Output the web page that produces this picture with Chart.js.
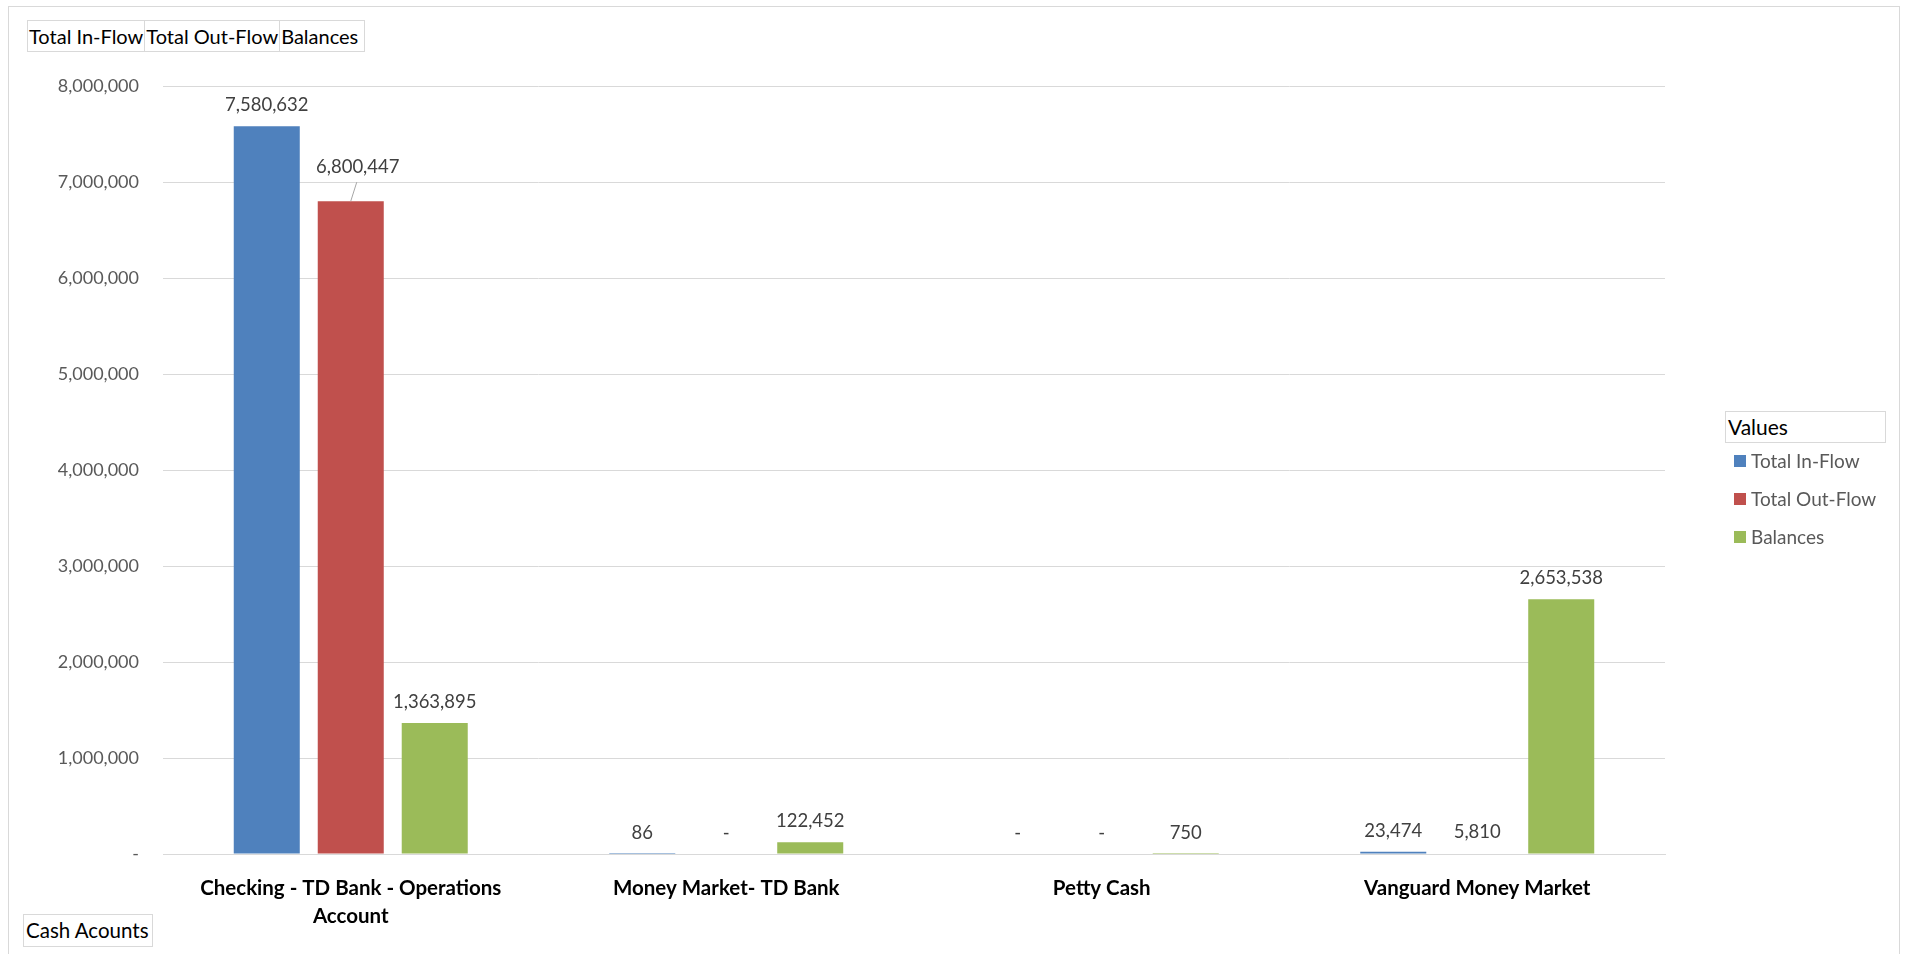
<!DOCTYPE html>
<html>
<head>
<meta charset="utf-8">
<script src="https://cdn.jsdelivr.net/npm/chart.js@4.4.1/dist/chart.umd.min.js"></script>
<style>
  html, body { margin: 0; padding: 0; background: #fff; }
  body { width: 1908px; height: 954px; position: relative; overflow: hidden; font-family: Lato, "Open Sans", sans-serif; }
  #frame { position: absolute; left: 8px; top: 6px; width: 1892px; height: 1000px; border: 1px solid #d9d9d9; box-sizing: border-box; }
  #wrap { position: absolute; left: 0; top: 0; width: 1908px; height: 954px; }
  .fieldbox { position: absolute; border: 1px solid #d9d9d9; box-sizing: border-box; color: #000; font-size: 20px; line-height: 30px; white-space: nowrap; background: #fff; }
  .fields { left: 27px; top: 20px; height: 32px; display: flex; }
  .fields span { border-right: 1px solid #d9d9d9; padding: 0 1px; }
  .fields span:last-child { border-right: none; padding-right: 6px; }
  .cash { left: 23px; top: 914px; width: 130px; height: 33px; padding-left: 2px; font-size: 20.5px; }
  .valuesHdr { left: 1725px; top: 411px; width: 161px; height: 32px; padding-left: 2px; font-size: 21px; }
  #legend { position: absolute; left: 1734px; top: 442px; font-size: 19px; color: #595959; }
  #legend div { height: 38px; line-height: 26px; display: flex; align-items: center; }
  #legend i { display: inline-block; width: 12px; height: 12px; margin-right: 5px; }
</style>
</head>
<body>
<div id="frame"></div>
<div id="wrap"><canvas id="chart" width="1908" height="954"></canvas></div>
<div class="fieldbox fields"><span>Total In-Flow</span><span>Total Out-Flow</span><span>Balances</span></div>
<div class="fieldbox valuesHdr">Values</div>
<div id="legend"></div>
<div class="fieldbox cash">Cash Acounts</div>
<script>
const categories = [
  ['Checking - TD Bank - Operations', 'Account'],
  'Money Market- TD Bank',
  'Petty Cash',
  'Vanguard Money Market'
];
const seriesNames = ['Total In-Flow', 'Total Out-Flow', 'Balances'];
const inFlow = [7580632, 86, 0, 23474];
const outFlow = [6800447, 0, 0, 5810];
const balances = [1363895, 122452, 750, 2653538];
const seriesColors = ['#4F81BD', '#C0504D', '#9BBB59'];

function fmt(v) {
  return v === 0 ? '-' : v.toLocaleString('en-US');
}

// legend on the right
const legendEl = document.getElementById('legend');
seriesNames.forEach((name, i) => {
  const row = document.createElement('div');
  row.innerHTML = '<i style="background:' + seriesColors[i] + '"></i>' + name;
  legendEl.appendChild(row);
});

// data labels drawn above each bar
const barLabels = {
  id: 'barLabels',
  afterDatasetsDraw(chart) {
    const ctx = chart.ctx;
    ctx.save();
    ctx.font = '18.5px Lato, "Open Sans", sans-serif';
    ctx.fillStyle = '#404040';
    ctx.textAlign = 'center';
    ctx.textBaseline = 'middle';
    chart.data.datasets.forEach((ds, di) => {
      chart.getDatasetMeta(di).data.forEach((bar, i) => {
        let x = bar.x, y = bar.y - 21;
        // Out-Flow label on the first account is pushed aside with a leader line
        if (di === 1 && i === 0) {
          x += 7; y -= 13;
          ctx.strokeStyle = '#a6a6a6';
          ctx.lineWidth = 1;
          ctx.beginPath();
          ctx.moveTo(x - 1, y + 15);
          ctx.lineTo(bar.x, bar.y);
          ctx.stroke();
        }
        ctx.fillText(fmt(ds.data[i]), x, y);
      });
    });
    ctx.restore();
  }
};

new Chart(document.getElementById('chart').getContext('2d'), {
  type: 'bar',
  data: {
    labels: categories,
    datasets: [
      { label: seriesNames[0], data: inFlow, backgroundColor: seriesColors[0] },
      { label: seriesNames[1], data: outFlow, backgroundColor: seriesColors[1] },
      { label: seriesNames[2], data: balances, backgroundColor: seriesColors[2] }
    ]
  },
  options: {
    responsive: false,
    animation: false,
    categoryPercentage: 0.671,
    barPercentage: 0.786,
    layout: { padding: { left: 0, right: 243, top: 86, bottom: 0 } },
    plugins: {
      legend: { display: false },
      tooltip: { enabled: false }
    },
    scales: {
      x: {
        grid: { display: false },
        border: { color: '#d9d9d9', width: 1 },
        ticks: {
          color: '#000',
          font: { family: 'Lato, "Open Sans", sans-serif', size: 20.5, weight: 'bold', lineHeight: 1.38 },
          padding: 12,
          maxRotation: 0,
          autoSkip: false
        },
        afterFit(scale) { scale.height = 100; }
      },
      y: {
        min: 0,
        max: 8000000,
        grid: { color: '#d9d9d9', drawTicks: false },
        border: { display: false },
        ticks: {
          stepSize: 1000000,
          color: '#595959',
          padding: 24,
          font: { family: 'Lato, "Open Sans", sans-serif', size: 18 },
          callback: v => fmt(v)
        },
        afterFit(scale) { scale.width = 163; }
      }
    }
  },
  plugins: [barLabels]
});
</script>
</body>
</html>
